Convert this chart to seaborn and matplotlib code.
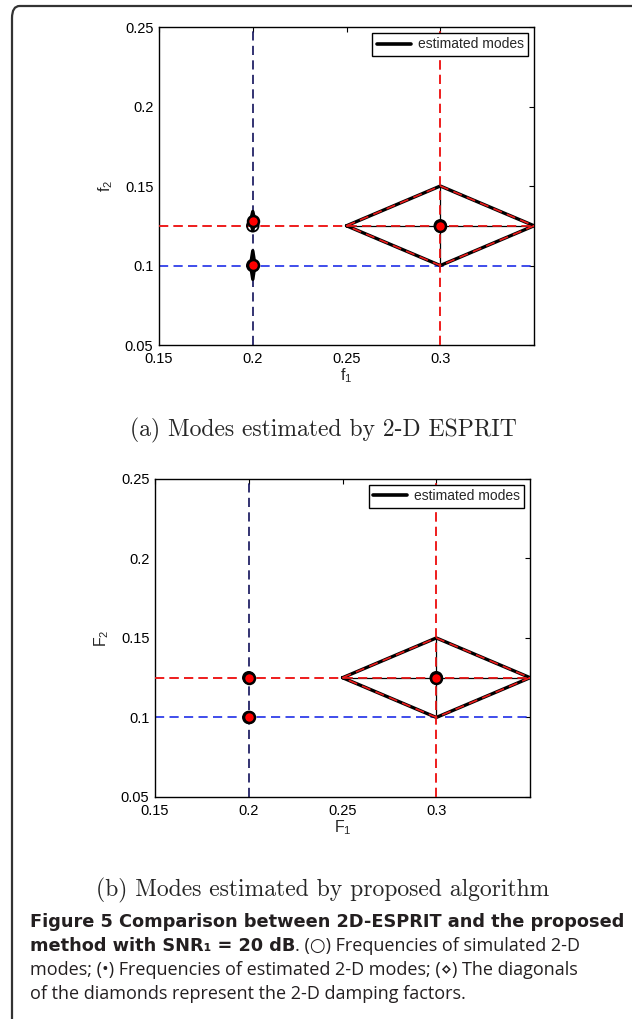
import pandas as pd
import seaborn as sns
import matplotlib.pyplot as plt
from matplotlib.patches import FancyBboxPatch

# simulated (true) 2-D modes: frequencies and damping half-diagonals
true_f1 = [0.2, 0.2, 0.3]
true_f2 = [0.1, 0.125, 0.125]

# (a) modes estimated by 2-D ESPRIT
esprit_f1 = [0.2, 0.2, 0.3]
esprit_f2 = [0.1003, 0.128, 0.125]
esprit_d1 = [0.0012, 0.0012, 0.05]
esprit_d2 = [0.009, 0.006, 0.025]

# (b) modes estimated by the proposed algorithm
prop_f1 = [0.2, 0.2, 0.3]
prop_f2 = [0.1, 0.125, 0.125]
prop_d1 = [0.0, 0.0, 0.05]
prop_d2 = [0.0, 0.0, 0.025]

# true damping diamond (only the third mode is damped)
true_d1 = [0.0, 0.0, 0.05]
true_d2 = [0.0, 0.0, 0.025]

# dashed reference lines through the true frequencies
vline_x = [0.2, 0.3]
hline_y = [0.1, 0.125]

xticks = [0.15, 0.2, 0.25, 0.3]
yticks = [0.05, 0.1, 0.15, 0.2, 0.25]

sns.set_style("white")
plt.rcParams["font.family"] = ["Liberation Sans", "DejaVu Sans"]
plt.rcParams["mathtext.fontset"] = "custom"
plt.rcParams["mathtext.rm"] = "Liberation Sans"

NAVY, BLUE, RED = "#10105a", "#1f2fe8", "#ee1c1c"
DASH = (0, (5.5, 3.2))


def diamonds(f1, f2, d1, d2):
    rows = []
    for i in range(len(f1)):
        xs = [f1[i] - d1[i], f1[i], f1[i] + d1[i], f1[i], f1[i] - d1[i]]
        ys = [f2[i], f2[i] + d2[i], f2[i], f2[i] - d2[i], f2[i]]
        for j, (x, y) in enumerate(zip(xs, ys)):
            rows.append({"mode": i, "order": j, "f1": x, "f2": y})
    return pd.DataFrame(rows)


def diagonals(f1, f2, d1, d2):
    rows = []
    k = 0
    for i in range(len(f1)):
        if d1[i] == 0 and d2[i] == 0:
            continue
        for x, y in [(f1[i] - d1[i], f2[i]), (f1[i] + d1[i], f2[i])]:
            rows.append({"seg": k, "f1": x, "f2": y})
        k += 1
        for x, y in [(f1[i], f2[i] - d2[i]), (f1[i], f2[i] + d2[i])]:
            rows.append({"seg": k, "f1": x, "f2": y})
        k += 1
    return pd.DataFrame(rows)


def panel(ax, est_f1, est_f2, est_d1, est_d2, xlab, ylab):
    for x, c in zip(vline_x, [NAVY, RED]):
        ax.axvline(x, color=c, lw=1.2, ls=DASH, zorder=1)
    for y, c in zip(hline_y, [BLUE, RED]):
        ax.axhline(y, color=c, lw=1.2, ls=DASH, zorder=1)

    est = diamonds(est_f1, est_f2, est_d1, est_d2)
    sns.lineplot(data=est, x="f1", y="f2", units="mode", estimator=None,
                 sort=False, color="black", lw=2.4, ax=ax, zorder=3,
                 legend=False)
    diag = diagonals(est_f1, est_f2, est_d1, est_d2)
    sns.lineplot(data=diag, x="f1", y="f2", units="seg", estimator=None,
                 sort=False, color="black", lw=0.9, ax=ax, zorder=3,
                 legend=False)
    tru = diamonds(true_f1, true_f2, true_d1, true_d2)
    sns.lineplot(data=tru, x="f1", y="f2", units="mode", estimator=None,
                 sort=False, color=RED, lw=1.2, ax=ax, zorder=4,
                 linestyle=DASH, legend=False)
    # red dashed reference over the diagonals
    for y in hline_y[1:]:
        ax.axhline(y, color=RED, lw=1.2, ls=DASH, zorder=4)
    ax.axvline(vline_x[1], color=RED, lw=1.2, ls=DASH, zorder=4)

    sns.scatterplot(x=true_f1, y=true_f2, marker="o", s=70,
                    facecolor="none", edgecolor="black", linewidth=1.3,
                    ax=ax, zorder=5)
    sns.scatterplot(x=est_f1, y=est_f2, marker="o", s=62,
                    color="#ff0000", edgecolor="black", linewidth=1.8,
                    ax=ax, zorder=6)

    ax.set_xlim(0.15, 0.35)
    ax.set_ylim(0.05, 0.25)
    ax.set_xticks(xticks)
    ax.set_yticks(yticks)
    ax.set_xticklabels([f"{t:g}" for t in xticks])
    ax.set_yticklabels([f"{t:g}" for t in yticks])
    ax.tick_params(direction="in", top=True, right=True, length=3.5,
                   width=0.8, labelsize=10.5, colors="black")
    ax.tick_params(axis="x", pad=5)
    ax.tick_params(axis="y", pad=4)
    for s in ax.spines.values():
        s.set_color("black")
        s.set_linewidth(1.0)
    ax.set_xlabel(xlab, fontsize=11.5, labelpad=0)
    ax.set_ylabel(ylab, fontsize=11.5, labelpad=7)
    h = [ax.lines[len(vline_x) + len(hline_y)]]
    leg = ax.legend(h, ["estimated modes"], loc="upper right", fontsize=10,
                    frameon=True, fancybox=False, edgecolor="black",
                    framealpha=1, borderpad=0.3, handlelength=2.5,
                    handletextpad=0.45, borderaxespad=0.45)
    leg.get_frame().set_linewidth(1.0)
    leg.get_lines()[0].set_linewidth(2.6)


fig = plt.figure(figsize=(6.32, 10.19), dpi=100)
ax1 = fig.add_axes([0.2516, 0.6614, 0.5934, 0.3121])
ax2 = fig.add_axes([0.2453, 0.2179, 0.5934, 0.3121])

panel(ax1, esprit_f1, esprit_f2, esprit_d1, esprit_d2,
      r"$\mathregular{f_1}$", r"$\mathregular{f_2}$")
panel(ax2, prop_f1, prop_f2, prop_d1, prop_d2,
      r"$\mathregular{F_1}$", r"$\mathregular{F_2}$")

H = 1019.0
fig.text(323 / 632, 1 - 430 / H, "(a) Modes estimated by 2-D ESPRIT",
         family="cmr10", fontsize=17, ha="center", va="center")
fig.text(323 / 632, 1 - 890 / H, "(b) Modes estimated by proposed algorithm",
         family="cmr10", fontsize=17, ha="center", va="center")

cap_font = ["Open Sans", "DejaVu Sans"]
bold_font = ["DejaVu Sans"]
x0 = 30 / 632
fig.text(x0, 1 - 922 / H,
         "Figure 5 Comparison between 2D-ESPRIT and the proposed",
         family=bold_font, fontsize=12.8, weight="bold", va="center",
         color="#231f20")
t_bold = fig.text(x0, 1 - 946 / H, "method with SNR\u2081 = 20 dB",
                  family=bold_font, fontsize=12.8, weight="bold",
                  va="center", color="#231f20")
fig.canvas.draw()
bb = t_bold.get_window_extent(fig.canvas.get_renderer())
fig.text(bb.x1 / fig.bbox.width, 1 - 946 / H,
         ". (\u25cb) Frequencies of simulated 2-D",
         family=cap_font, fontsize=13, va="center", color="#231f20")
fig.text(x0, 1 - 970 / H,
         "modes; (\u2022) Frequencies of estimated 2-D modes; (\u22c4) The diagonals",
         family=cap_font, fontsize=13, va="center", color="#231f20")
fig.text(x0, 1 - 994 / H,
         "of the diamonds represent the 2-D damping factors.",
         family=cap_font, fontsize=13, va="center", color="#231f20")

# rounded frame around the figure (right and bottom fall off the page)
frame = FancyBboxPatch((12 / 632, -0.02), 1.2, 1 - 6 / H + 0.02,
                       boxstyle="round,pad=0,rounding_size=0.012",
                       transform=fig.transFigure, fill=False,
                       edgecolor="#333333", lw=1.6)
fig.patches.append(frame)

fig.savefig("out.png", dpi=100)
